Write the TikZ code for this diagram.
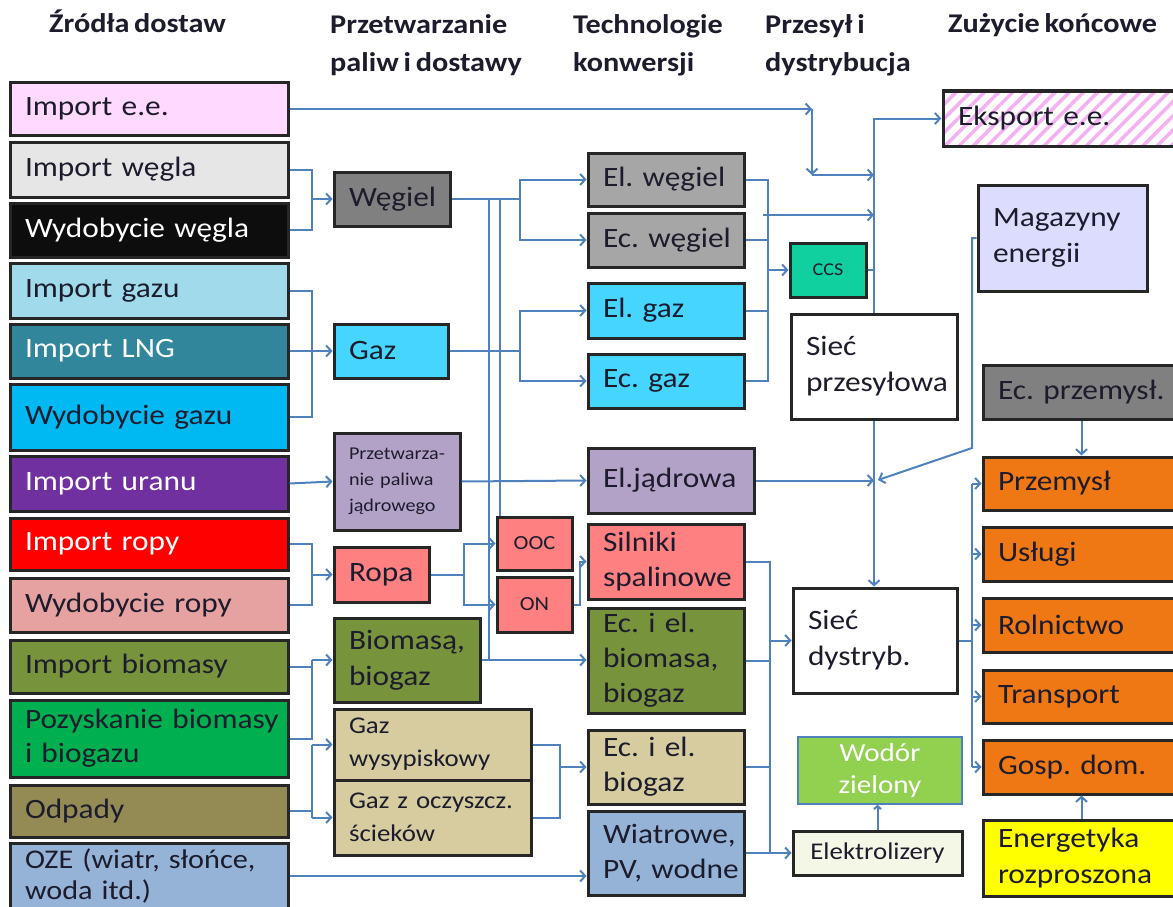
\documentclass[tikz,border=0pt]{standalone}
\usepackage{fontspec}
\setmainfont[FakeStretch=1.12,WordSpace=0.7]{Carlito}
\usetikzlibrary{arrows.meta,patterns.meta}

\definecolor{ink}{HTML}{1C1C2C}
\definecolor{flow}{HTML}{4F81BD}
\definecolor{pinkA}{HTML}{FFD9FF}
\definecolor{greyA}{HTML}{E6E6E6}
\definecolor{coalB}{HTML}{0D0D0D}
\definecolor{gasA}{HTML}{A0DAEB}
\definecolor{lngA}{HTML}{31869B}
\definecolor{gasB}{HTML}{00B9F2}
\definecolor{uran}{HTML}{7030A0}
\definecolor{oilA}{HTML}{FF0000}
\definecolor{oilB}{HTML}{E6A1A1}
\definecolor{olive}{HTML}{77933C}
\definecolor{bioB}{HTML}{00B050}
\definecolor{waste}{HTML}{948A54}
\definecolor{res}{HTML}{95B3D7}
\definecolor{coalP}{HTML}{808080}
\definecolor{coalT}{HTML}{A6A6A6}
\definecolor{cyanP}{HTML}{45D5FF}
\definecolor{nuc}{HTML}{B3A2C7}
\definecolor{oilP}{HTML}{FF8080}
\definecolor{tan}{HTML}{D6CCA0}
\definecolor{ccsC}{HTML}{10D0A0}
\definecolor{hydro}{HTML}{92D050}
\definecolor{ivory}{HTML}{F5F7E6}
\definecolor{stripe}{HTML}{F5B0F2}
\definecolor{store}{HTML}{DCDCFF}
\definecolor{use}{HTML}{F07814}
\definecolor{dist}{HTML}{FFFF00}

% box: name, x1, y1, x2, y2, extra style, text
\newcommand\bx[7]{%
  \pgfmathsetmacro\bxw{#4-#2}%
  \pgfmathsetmacro\bxh{#5-#3}%
  \pgfmathsetmacro\bxt{#4-#2-30}%
  \node[box,minimum width=\bxw pt,minimum height=\bxh pt,text width=\bxt pt,#6]
    (#1) at ({(#2+#4)/2},{(#3+#5)/2}) {#7};}

\begin{document}
\frenchspacing
\begin{tikzpicture}[x=1pt,y=-1pt,
  box/.style={draw=black!85,line width=3pt,inner xsep=15pt,inner ysep=0pt,
    align=left,font=\fontsize{28}{36}\selectfont,text=ink},
  small/.style={font=\fontsize{18}{26}\selectfont},
  mid/.style={font=\fontsize{24}{33}\selectfont},
  light/.style={text=white},
  hdr/.style={font=\bfseries\fontsize{27}{38}\selectfont,text=ink,inner sep=0pt,align=left},
  wire/.style={draw=flow,line width=2pt},
  arr/.style={wire,-{Straight Barb[length=5pt,width=11pt]}}]

\useasboundingbox (0,0) rectangle (1173,907);
\clip (0,0) rectangle (1173,907);

% column headings
\node[hdr,anchor=base west] (h1) at (49,33) {Źródła dostaw};
\node[hdr,anchor=north west] (h2) at (330,14) {Przetwarzanie\\paliw i dostawy};
\node[hdr,anchor=north west] (h3) at (573,14) {Technologie\\konwersji};
\node[hdr,anchor=north west] (h4) at (765,14) {Przesył i\\dystrybucja};
\node[hdr,anchor=base west] (h5) at (948,33) {Zużycie końcowe};

% supply sources
\bx{ie}{10}{83}{288}{135}{fill=pinkA}{Import e.e.}
\bx{iw}{10}{142}{288}{197}{fill=greyA}{Import węgla}
\bx{ww}{10}{203}{288}{257}{fill=coalB,light}{Wydobycie~węgla}
\bx{ig}{10}{263}{288}{318}{fill=gasA}{Import gazu}
\bx{il}{10}{324}{288}{378}{fill=lngA,light}{Import LNG}
\bx{wg}{10}{384}{288}{450}{fill=gasB}{Wydobycie gazu}
\bx{iu}{10}{456}{288}{511}{fill=uran,light}{Import uranu}
\bx{ir}{10}{518}{288}{570}{fill=oilA,light}{Import ropy}
\bx{wr}{10}{578}{288}{632}{fill=oilB}{Wydobycie ropy}
\bx{ib}{10}{640}{288}{693}{fill=olive}{Import biomasy}
\bx{pb}{10}{700}{288}{777}{fill=bioB,font=\fontsize{28}{34}\selectfont}{Pozyskanie~biomasy\\i biogazu}
\bx{od}{10}{785}{288}{837}{fill=waste}{Odpady}
\bx{oze}{10}{843}{288}{909}{fill=res,font=\fontsize{27}{31}\selectfont}{OZE (wiatr, słońce,\\woda itd.)}

% fuel processing
\bx{weg}{334}{172}{450}{226}{fill=coalP}{Węgiel}
\bx{gaz}{334}{324}{448}{378}{fill=cyanP}{Gaz}
\bx{pj}{334}{433}{460}{530}{fill=nuc,small}{Przetwarza-\\nie paliwa\\jądrowego}
\bx{ropa}{334}{547}{429}{602}{fill=oilP}{Ropa}
\bx{bio}{334}{618}{480}{702}{fill=olive}{Biomasą,\\biogaz}
\bx{gw}{334}{709}{531}{780}{fill=tan,mid}{Gaz\\wysypiskowy}
\bx{go}{334}{780}{531}{855}{fill=tan,mid}{Gaz z oczyszcz.\\ścieków}
\bx{ooc}{497}{517}{572}{570}{fill=oilP,align=center,font=\fontsize{20}{24}\selectfont}{OOC}
\bx{on}{497}{577}{572}{632}{fill=oilP,align=center,font=\fontsize{20}{24}\selectfont}{ON}

% conversion technologies
\bx{elw}{588}{153}{744}{206}{fill=coalT}{El.~węgiel}
\bx{ecw}{588}{213}{744}{267}{fill=coalT}{Ec.~węgiel}
\bx{elg}{588}{283}{744}{338}{fill=cyanP}{El. gaz}
\bx{ecg}{588}{354}{744}{408}{fill=cyanP}{Ec. gaz}
\bx{elj}{588}{448}{754}{513}{fill=nuc}{El.jądrowa}
\bx{sil}{588}{524}{744}{599}{fill=oilP,font=\fontsize{28}{35}\selectfont}{Silniki\\spalinowe}
\bx{ecb}{588}{608}{744}{713}{fill=olive,font=\fontsize{28}{35}\selectfont}{Ec.~i~el.\\biomasa,\\biogaz}
\bx{ecbg}{588}{730}{744}{804}{fill=tan,font=\fontsize{28}{35}\selectfont}{Ec.~i~el.\\biogaz}
\bx{wpv}{588}{811}{744}{895}{fill=res,font=\fontsize{28}{35}\selectfont}{Wiatrowe,\\PV,~wodne}

% transmission and distribution
\bx{ccs}{790}{243}{866}{297}{fill=ccsC,align=center,font=\fontsize{18}{22}\selectfont}{CCS}
\bx{sp}{791}{314}{957}{419}{fill=white}{Sieć\\przesyłowa}
\bx{sd}{793}{588}{957}{693}{fill=white}{Sieć\\dystryb.}
\bx{h2}{798}{737}{962}{804}{fill=hydro,draw=flow,line width=1.5pt,light,align=center,font=\fontsize{26}{32}\selectfont}{Wodór\\zielony}
\bx{ele}{793}{831}{962}{875}{fill=ivory,align=center,mid}{Elektrolizery}

% final use
\bx{eks}{943}{91}{1180}{146}{pattern={Lines[angle=45,distance=10pt,line width=3.5pt]},pattern color=stripe}{Eksport e.e.}
\bx{mag}{978}{185}{1147}{291}{fill=store}{Magazyny\\energii}
\bx{ecp}{983}{365}{1180}{419}{fill=coalP}{Ec. przemysł.}
\bx{prz}{983}{457}{1180}{510}{fill=use}{Przemysł}
\bx{usl}{983}{527}{1180}{581}{fill=use}{Usługi}
\bx{rol}{983}{598}{1180}{652}{fill=use}{Rolnictwo}
\bx{tra}{983}{670}{1180}{723}{fill=use}{Transport}
\bx{gosp}{983}{740}{1180}{794}{fill=use}{Gosp. dom.}
\bx{enr}{983}{820}{1180}{896}{fill=dist}{Energetyka\\rozproszona}

% bus lines and junctions
\coordinate (x1) at (312,0);
\coordinate (x2) at (520,0);
\coordinate (x3) at (489,0);
\coordinate (x4) at (500,0);
\coordinate (x5) at (464,0);
\coordinate (x6) at (580,0);
\coordinate (x7) at (560,0);
\coordinate (x8) at (768,0);
\coordinate (x10) at (812,0);
\coordinate (x11) at (770,0);
\coordinate (x12) at (972,0);
\coordinate (c1) at (812,175);
\coordinate (c2) at (763,215);
\coordinate (c3) at (972,448);
\coordinate (c4) at (878,480);

% electricity import routed to the transmission grid
\draw[arr] (ie.east) -- (x10 |- ie.east);
\draw[arr] (x10 |- ie.east) -- (c1);
\draw[arr] (c1) -- (sp.north |- c1);
\draw[arr] (sp.north) |- (eks.west);

% coal
\draw[wire] (iw.east) -- (x1 |- iw.east) -- (x1 |- ww.east) -- (ww.east);
\draw[arr] (x1 |- weg.west) -- (weg.west);
\draw[wire] (weg.east) -- (x2 |- weg.east);
\draw[arr] (x2 |- weg.east) |- (elw.west);
\draw[arr] (x2 |- weg.east) |- (ecw.west);
\draw[wire] (x3 |- weg.east) -- (x3 |- bio.east);
\draw[wire] (x4 |- weg.east) -- (x4 |- ooc.north);

% gas
\draw[wire] (ig.east) -- (x1 |- ig.east) -- (x1 |- wg.east) -- (wg.east);
\draw[arr] (il.east) -- (gaz.west);
\draw[wire] (gaz.east) -- (x2 |- gaz.east);
\draw[arr] (x2 |- gaz.east) |- (elg.west);
\draw[arr] (x2 |- gaz.east) |- (ecg.west);

% thermal plants, CCS and the transmission grid
\draw[wire] (elw.east) -- (x8 |- elw.east) -- (x8 |- ecg.east) -- (ecg.east);
\draw[wire] (ecw.east) -- (x8 |- ecw.east);
\draw[wire] (elg.east) -- (x8 |- elg.east);
\draw[arr] (x8 |- ccs.west) -- (ccs.west);
\draw[arr] (c2) -- (sp.north |- c2);
\draw[wire] (ccs.east) -- (sp.north |- ccs.east);

% nuclear
\draw[arr] (iu.east) -- (pj.west);
\draw[arr] (pj.east) -- (elj.west);
\draw[arr] (elj.east) -- (sp.north |- elj.east);
\draw[arr] (sp.south) -- (sp.south |- sd.north);
\draw[arr] (mag.west) -- (x12 |- mag.west) -- (c3) -- (c4);

% oil
\draw[wire] (ir.east) -- (x1 |- ir.east) -- (x1 |- wr.east) -- (wr.east);
\draw[arr] (x1 |- ropa.west) -- (ropa.west);
\draw[wire] (ropa.east) -- (x5 |- ropa.east);
\draw[arr] (x5 |- ropa.east) |- (ooc.west);
\draw[arr] (x5 |- ropa.east) |- (on.west);
\draw[arr] (on.east) -- (x6 |- on.east) |- (sil.west);

% biomass and biogas
\draw[wire] (ib.east) -- (x1 |- ib.east);
\draw[wire] (x1 |- bio.west) -- (x1 |- pb.east) -- (pb.east);
\draw[arr] (x1 |- bio.west) -- (bio.west);
\draw[arr] (bio.east) -- (bio.east -| ecb.west);
\draw[wire] (od.east) -- (x1 |- od.east);
\draw[wire] (x1 |- gw.west) -- (x1 |- go.west);
\draw[arr] (x1 |- gw.west) -- (gw.west);
\draw[arr] (x1 |- go.west) -- (go.west);
\draw[wire] (gw.east) -- (x7 |- gw.east) -- (x7 |- go.east) -- (go.east);
\draw[arr] (x7 |- ecbg.west) -- (ecbg.west);

% renewables
\draw[arr] (oze.east) -- (oze.east -| wpv.west);

% distribution grid and hydrogen
\draw[wire] (sil.east) -- (x11 |- sil.east) -- (x11 |- wpv.east) -- (wpv.east);
\draw[wire] (ecb.east) -- (x11 |- ecb.east);
\draw[wire] (ecbg.east) -- (x11 |- ecbg.east);
\draw[arr] (x11 |- sd.west) -- (sd.west);
\draw[arr] (x11 |- ele.west) -- (ele.west);
\draw[wire,-{Straight Barb[length=3pt,width=7pt]}] (ele.north) -- (ele.north |- h2.south);

% final use
\draw[wire] (sd.east) -- (x12 |- sd.east);
\draw[wire] (x12 |- prz.west) -- (x12 |- gosp.west);
\draw[arr] (x12 |- prz.west) -- (prz.west);
\draw[arr] (x12 |- usl.west) -- (usl.west);
\draw[arr] (x12 |- rol.west) -- (rol.west);
\draw[arr] (x12 |- tra.west) -- (tra.west);
\draw[arr] (x12 |- gosp.west) -- (gosp.west);
\draw[arr] (ecp.south) -- (ecp.south |- prz.north);
\draw[arr] (enr.north) -- (enr.north |- gosp.south);
\end{tikzpicture}
\end{document}
